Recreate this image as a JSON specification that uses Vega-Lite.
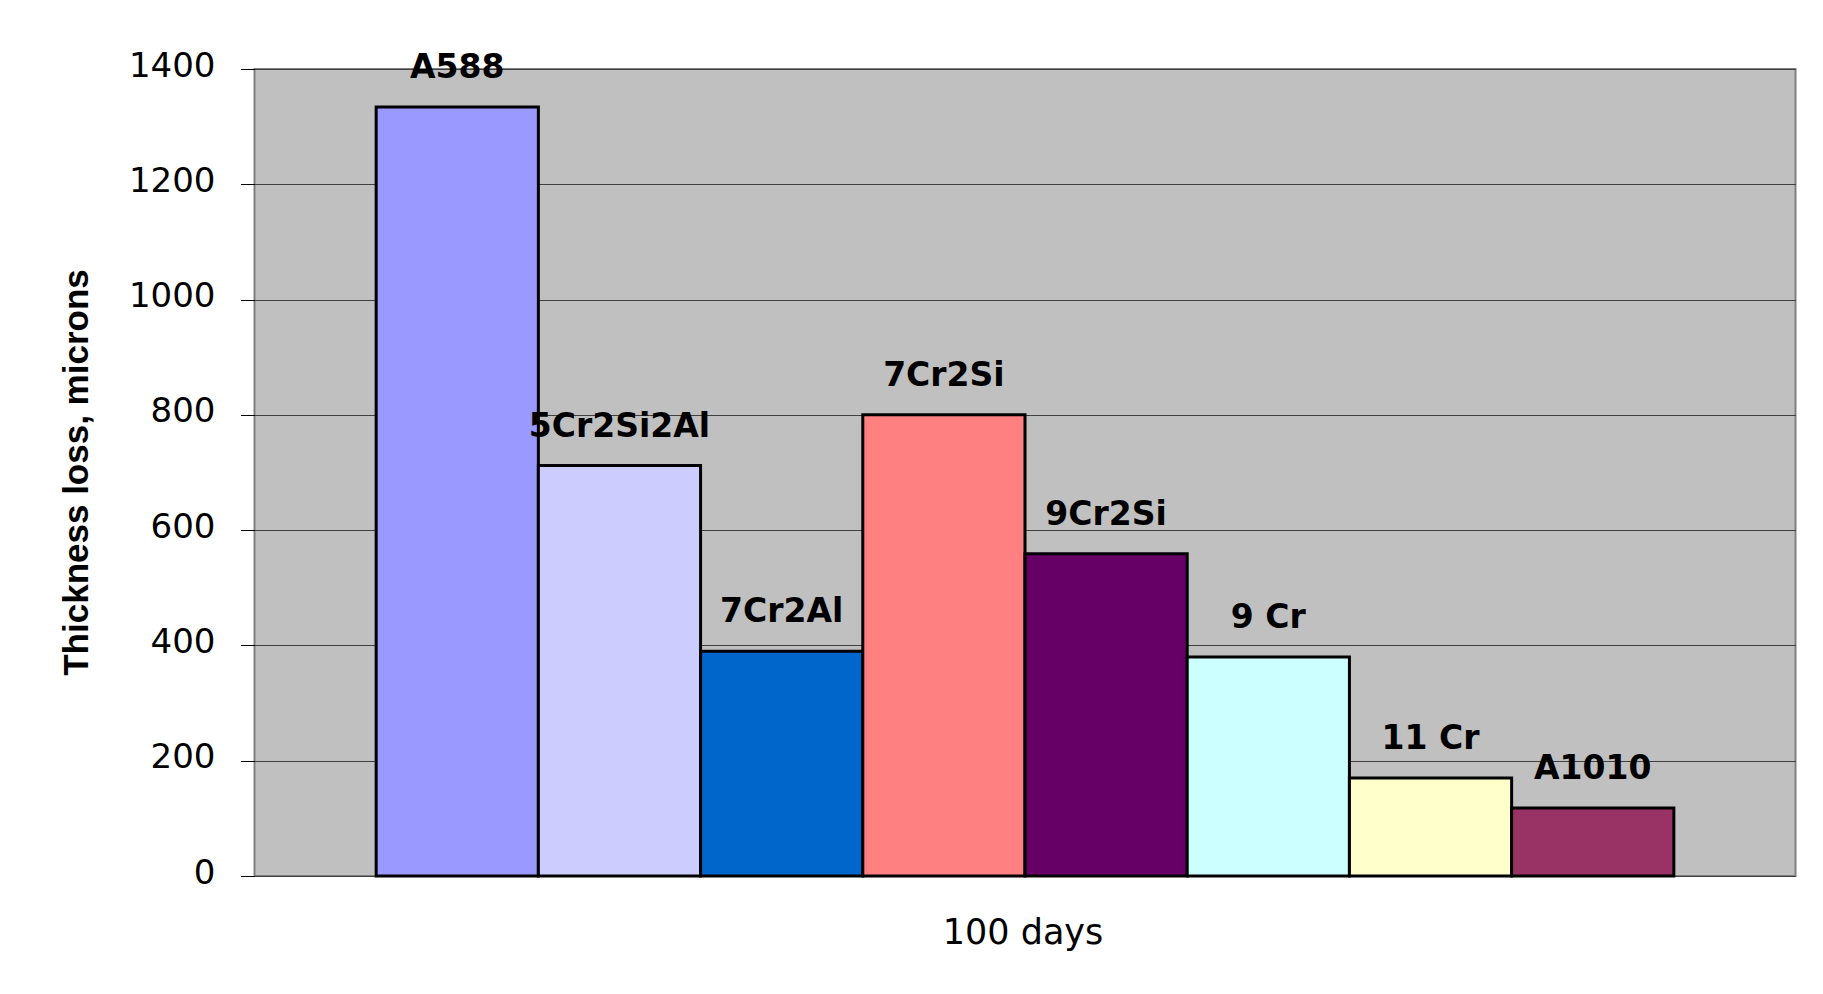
{
  "$schema": "https://vega.github.io/schema/vega-lite/v6.json",
  "autosize": {"type": "none"},
  "width": 1541,
  "height": 807,
  "padding": {"left": 254.5, "top": 69, "right": 27, "bottom": 118},
  "background": "white",
  "config": {"view": {"fill": "#C0C0C0", "stroke": "#808080", "strokeWidth": 2}},
  "data": {
    "values": [
      {"alloy": "A588", "loss": 1334},
      {"alloy": "5Cr2Si2Al", "loss": 712},
      {"alloy": "7Cr2Al", "loss": 390},
      {"alloy": "7Cr2Si", "loss": 800},
      {"alloy": "9Cr2Si", "loss": 559},
      {"alloy": "9 Cr", "loss": 380},
      {"alloy": "11 Cr", "loss": 170},
      {"alloy": "A1010", "loss": 118}
    ]
  },
  "encoding": {
    "x": {
      "field": "alloy",
      "type": "nominal",
      "sort": null,
      "scale": {"paddingInner": 0, "paddingOuter": 0.75},
      "axis": {
        "labels": false,
        "ticks": false,
        "domain": false,
        "title": "100 days",
        "titleFont": "DejaVu Sans",
        "titleFontSize": 35,
        "titleFontWeight": "normal",
        "titleColor": "black",
        "titleBaseline": "alphabetic",
        "titleY": 67,
        "titleX": 768
      }
    },
    "y": {
      "field": "loss",
      "type": "quantitative",
      "scale": {"domain": [0, 1400], "nice": false},
      "axis": {
        "values": [0, 200, 400, 600, 800, 1000, 1200, 1400],
        "format": "d",
        "grid": true,
        "gridColor": "#404040",
        "gridWidth": 1,
        "tickColor": "black",
        "tickSize": 14,
        "tickWidth": 1,
        "labelPadding": 25.5,
        "labelOffset": -3,
        "labelFont": "DejaVu Sans",
        "labelFontSize": 34,
        "labelColor": "black",
        "domain": false,
        "title": "Thickness loss, microns",
        "titleFont": "Liberation Sans",
        "titleFontSize": 35,
        "titleFontWeight": "bold",
        "titleColor": "black",
        "titleAngle": -90,
        "titleX": -178,
        "titleY": 403,
        "titleBaseline": "middle",
        "titleAlign": "center"
      }
    }
  },
  "layer": [
    {
      "mark": {"type": "bar", "stroke": "black", "strokeWidth": 3},
      "encoding": {
        "color": {
          "field": "alloy",
          "type": "nominal",
          "sort": null,
          "scale": {
            "domain": ["A588", "5Cr2Si2Al", "7Cr2Al", "7Cr2Si", "9Cr2Si", "9 Cr", "11 Cr", "A1010"],
            "range": ["#9999FF", "#CCCCFF", "#0066CC", "#FF8080", "#660066", "#CCFFFF", "#FFFFCC", "#993366"]
          },
          "legend": null
        }
      }
    },
    {
      "mark": {"type": "text", "dy": -29, "baseline": "alphabetic", "font": "DejaVu Sans", "fontWeight": "bold", "fontSize": 33, "color": "black"},
      "encoding": {"text": {"field": "alloy"}}
    }
  ]
}
